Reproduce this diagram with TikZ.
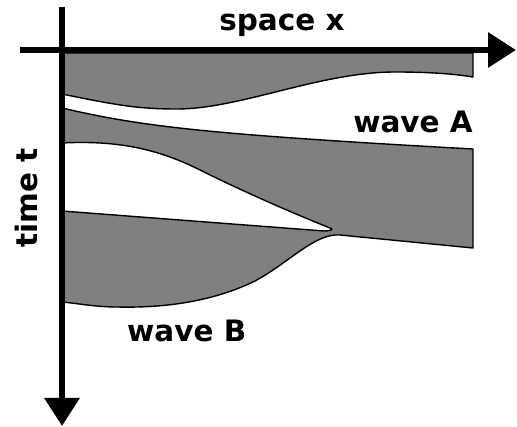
\documentclass[tikz,border=0pt]{standalone}
\usepackage{fontspec}
\setmainfont{DejaVu Sans}
\usetikzlibrary{arrows.meta}

\begin{document}
\begin{tikzpicture}[
        x=1pt, y=-1pt,
        font=\fontsize{29.5}{33}\selectfont\bfseries,
        band/.style={
            draw=black,
            line width=1.4pt,
            line join=round,
            fill=black!50
        },
        axis/.style={
            line width=6.5pt,
            -{Triangle[length=28pt, width=34pt]}
        },
        labeltext/.style={
            inner sep=0pt,
            text=black
        }
    ]

    \useasboundingbox (0,0) rectangle (517,427);

    % upper band (wave A, early times)
    \fill[band] (62,53) -- (473,53) -- (473,77)
        .. controls (455,74) and (430,72) .. (395,72)
        .. controls (320,72) and (240,109) .. (177,109)
        .. controls (140,109) and (120,106) .. (62,94) -- cycle;

    % merged band (wave A and wave B)
    \fill[band] (62,108)
        .. controls (140,126) and (200,134) .. (473,149)
        -- (473,248) -- (340,235)
        .. controls (315,233) and (290,262) .. (255,281)
        .. controls (210,303) and (160,308) .. (117,307)
        .. controls (95,307) and (75,303) .. (62,302)
        -- (62,211) -- (324,231)
        .. controls (332,231) and (334,229) .. (330,228)
        .. controls (290,212) and (240,190) .. (200,170)
        .. controls (160,150) and (120,140) .. (62,143) -- cycle;

    % axes
    \coordinate (xstart) at (20,50);
    \coordinate (xend) at (516,50);
    \coordinate (tstart) at (62,7);
    \coordinate (tend) at (62,426);
    \draw[axis] (xstart) -- (xend);
    \draw[axis] (tstart) -- (tend);

    \node[labeltext, anchor=base] (spacelabel) at (282,31) {space x};
    \node[labeltext, anchor=base, rotate=90] (timelabel) at (37,198) {time t};
    \node[labeltext, anchor=base east] (wavea) at (473,133) {wave A};
    \node[labeltext, anchor=base west] (waveb) at (127,342) {wave B};

\end{tikzpicture}
\end{document}
